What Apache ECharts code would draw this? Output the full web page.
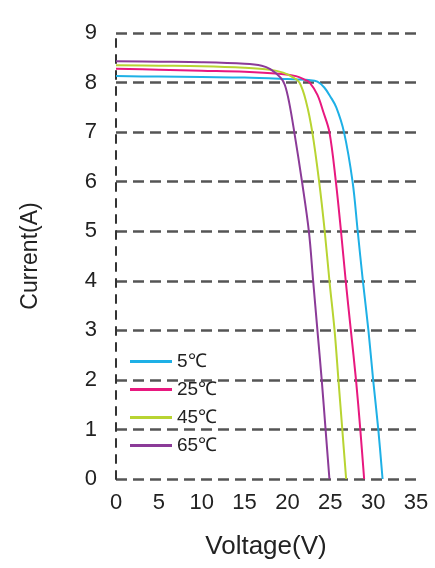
<!DOCTYPE html>
<html><head><meta charset="utf-8">
<script src="https://cdn.jsdelivr.net/npm/echarts@6/dist/echarts.min.js"></script>
<style>html,body{margin:0;padding:0;background:#fff}#c{width:435px;height:568px}</style>
</head><body><div id="c"></div>
<script>
var seriesNames = ['5℃', '25℃', '45℃', '65℃'];
var xTicks = [0, 5, 10, 15, 20, 25, 30, 35];
var yTicks = [0, 1, 2, 3, 4, 5, 6, 7, 8, 9];

var v5  = [0, 5, 10, 15, 20, 22.5, 23.5, 24.3, 25.0, 25.7, 26.6, 27.6, 28.2, 28.8, 29.45, 30.0, 30.6, 31.1];
var i5  = [8.13, 8.12, 8.11, 8.10, 8.07, 8.05, 8.02, 7.9, 7.72, 7.5, 7.0, 6.0, 5.0, 4.0, 3.0, 2.0, 1.0, 0];

var v25 = [0, 5, 10, 15, 19, 21, 22, 22.6, 23.5, 24.2, 24.9, 25.65, 26.25, 26.8, 27.4, 28.0, 28.5, 28.95];
var i25 = [8.28, 8.26, 8.24, 8.22, 8.18, 8.13, 8.06, 8.0, 7.75, 7.4, 7.0, 6.0, 5.0, 4.0, 3.0, 2.0, 1.0, 0];

var v45 = [0, 5, 10, 15, 18, 19.5, 20.5, 21.4, 22.2, 22.9, 23.7, 24.35, 24.9, 25.5, 25.95, 26.4, 26.85];
var i45 = [8.35, 8.34, 8.33, 8.30, 8.26, 8.20, 8.12, 8.0, 7.6, 7.0, 6.0, 5.0, 4.0, 3.0, 2.0, 1.0, 0];

var v65 = [0, 5, 10, 15, 17, 18, 19.2, 19.7, 20.2, 20.8, 21.7, 22.5, 23.0, 23.5, 24.0, 24.45, 24.9];
var i65 = [8.43, 8.42, 8.41, 8.38, 8.34, 8.27, 8.1, 7.95, 7.6, 7.0, 6.0, 5.0, 4.0, 3.0, 2.0, 1.0, 0];

var colors = ['#1eb0e6', '#e8187f', '#b8d432', '#8b3b98'];

function pairs(v, i) { return v.map(function (x, k) { return [x, i[k]]; }); }
var dataSets = [pairs(v5, i5), pairs(v25, i25), pairs(v45, i45), pairs(v65, i65)];

var font = 'Liberation Sans, Arial, sans-serif';
var chart = echarts.init(document.getElementById('c'));
chart.setOption({
  animation: false,
  grid: { left: 116, right: 19, top: 33, bottom: 89, containLabel: false },
  legend: {
    orient: 'vertical', left: 125, top: 347, itemWidth: 42, itemHeight: 3, itemGap: 9,
    icon: 'rect',
    textStyle: { fontFamily: font, fontSize: 19, color: '#222', lineHeight: 19 },
    data: seriesNames
  },
  xAxis: {
    type: 'value', min: xTicks[0], max: xTicks[xTicks.length - 1], interval: 5,
    name: 'Voltage(V)', nameLocation: 'middle', nameGap: 55,
    nameTextStyle: { fontFamily: font, fontSize: 26, color: '#222' },
    axisLine: { show: false }, axisTick: { show: false },
    axisLabel: { fontFamily: font, fontSize: 22, color: '#222', margin: 13 },
    splitLine: { show: false }
  },
  yAxis: {
    type: 'value', min: yTicks[0], max: yTicks[yTicks.length - 1], interval: 1,
    name: 'Current(A)', nameLocation: 'middle', nameGap: 74,
    nameTextStyle: { fontFamily: font, fontSize: 23, color: '#222' },
    axisLine: { show: true, lineStyle: { color: '#333', width: 2, type: [8, 8] } },
    axisTick: { show: false },
    axisLabel: { fontFamily: font, fontSize: 22, color: '#222', margin: 19 },
    splitLine: { show: true, lineStyle: { color: '#555', width: 2.5, type: [11, 6] } }
  },
  series: seriesNames.map(function (n, k) {
    return {
      name: n, type: 'line', data: dataSets[k], smooth: 0.35,
      symbol: 'none', lineStyle: { color: colors[k], width: 2 }, itemStyle: { color: colors[k] }
    };
  })
});
</script></body></html>
